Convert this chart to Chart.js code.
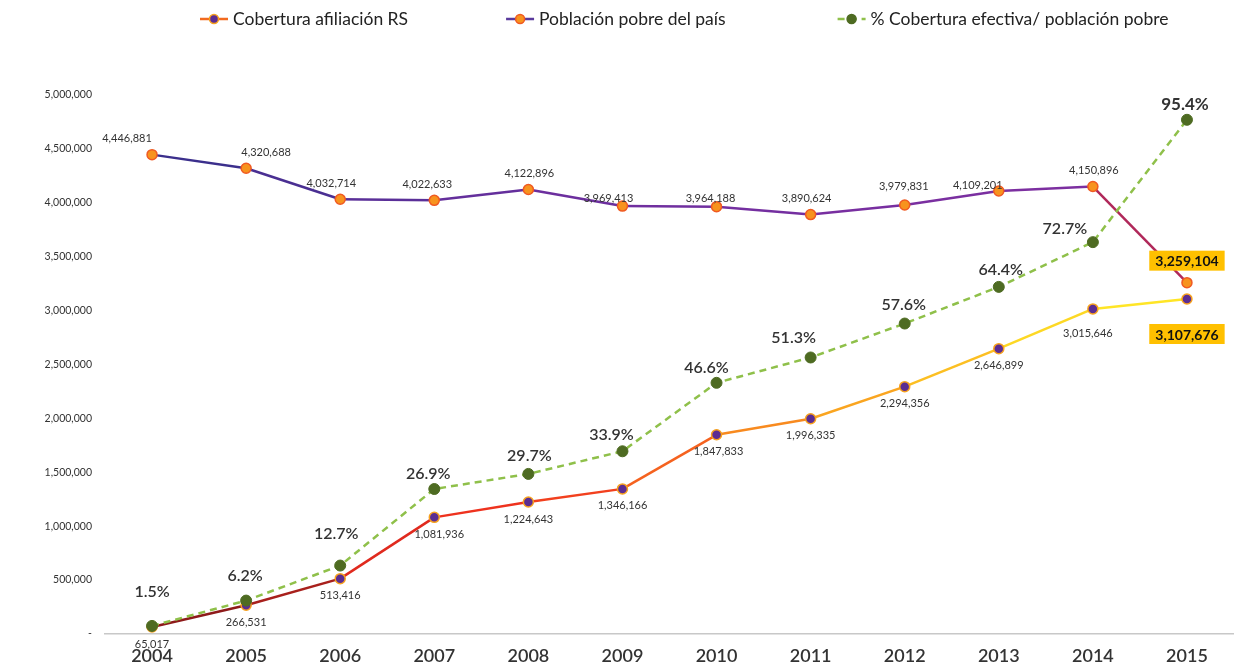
<!DOCTYPE html>
<html>
<head>
<meta charset="utf-8">
<script src="https://cdn.jsdelivr.net/npm/chart.js@4.4.1/dist/chart.umd.min.js"></script>
<style>
  html, body { margin: 0; padding: 0; background: #fff; overflow: hidden; }
  #wrap { position: relative; width: 1234px; height: 667px; }
</style>
</head>
<body>
<div id="wrap"><canvas id="chart"></canvas></div>
<script>
const years = ["2004", "2005", "2006", "2007", "2008", "2009", "2010", "2011", "2012", "2013", "2014", "2015"];
const cobertura = [65017, 266531, 513416, 1081936, 1224643, 1346166, 1847833, 1996335, 2294356, 2646899, 3015646, 3107676];
const poblacion = [4446881, 4320688, 4032714, 4022633, 4122896, 3969413, 3964188, 3890624, 3979831, 4109201, 4150896, 3259104];
const porcentaje = [1.5, 6.2, 12.7, 26.9, 29.7, 33.9, 46.6, 51.3, 57.6, 64.4, 72.7, 95.4];

// segment colours (style only)
const cobColors = ["#8e1a1a", "#a8201c", "#e02a1e", "#ee321e", "#f2401e", "#f5621f", "#f88a1f", "#faa520", "#fcbf22", "#fdd824", "#ffe526"];
const pobColors = ["#3b2f8c", "#4a2f92", "#5a2f98", "#642f9c", "#6c2f9e", "#702f9f", "#742fa0", "#782fa0", "#7a2fa0", "#7c2fa0", "#b0285a"];

const fmt = v => v.toLocaleString("en-US");
const FONT = "Lato, 'Open Sans', sans-serif";

// custom labels and legend
const labelsPlugin = {
  id: "pointLabels",
  afterDatasetsDraw(chart) {
    const ctx = chart.ctx;
    chart.data.datasets.forEach((ds, di) => {
      const meta = chart.getDatasetMeta(di);
      meta.data.forEach((pt, i) => {
        const last = i === ds.data.length - 1;
        let text = ds.isPct ? ds.data[i].toFixed(1) + "%" : fmt(ds.data[i]);
        let dx = (ds.labelDx && ds.labelDx[i]) || 0;
        let dy = ds.labelDy + ((ds.labelDyExtra && ds.labelDyExtra[i]) || 0);
        const x = pt.x + dx, y = pt.y + dy;
        ctx.save();
        ctx.textAlign = "center";
        ctx.textBaseline = "middle";
        if (ds.boxLast && last) {
          ctx.font = "bold 14px " + FONT;
          const w = ctx.measureText(text).width + 12;
          ctx.fillStyle = "#ffc000";
          ctx.fillRect(x - w / 2, y - 10, w, 20);
          ctx.fillStyle = "#111";
          ctx.fillText(text, x, y + 1);
        } else if (ds.isPct) {
          ctx.font = (last ? "bold 17px " : "600 16px ") + FONT;
          ctx.fillStyle = "#333";
          ctx.fillText(text, x, y);
        } else {
          ctx.font = "11px " + FONT;
          ctx.fillStyle = "#333";
          ctx.fillText(text, x, y);
        }
        ctx.restore();
      });
    });
  },
  afterDraw(chart) {
    const ctx = chart.ctx;
    let x = 200;
    const y = 19;
    const gaps = [98, 112];
    ctx.save();
    ctx.font = "17.5px " + FONT;
    ctx.textBaseline = "middle";
    chart.data.datasets.forEach((ds, k) => {
      ctx.lineWidth = 2.5;
      ctx.strokeStyle = ds.legendLine;
      ctx.setLineDash(ds.borderDash || []);
      ctx.beginPath();
      ctx.moveTo(x, y);
      ctx.lineTo(x + 28, y);
      ctx.stroke();
      ctx.setLineDash([]);
      ctx.beginPath();
      ctx.arc(x + 14, y, 4.5, 0, Math.PI * 2);
      ctx.fillStyle = ds.pointBackgroundColor;
      ctx.fill();
      ctx.lineWidth = 1.5;
      ctx.strokeStyle = ds.pointBorderColor;
      ctx.stroke();
      ctx.fillStyle = "#222";
      ctx.fillText(ds.label, x + 33, y);
      x += 33 + ctx.measureText(ds.label).width + (gaps[k] || 0);
    });
    ctx.restore();
  }
};

new Chart(document.getElementById("chart"), {
  type: "line",
  data: {
    labels: years,
    datasets: [
      {
        label: "Cobertura afiliación RS",
        data: cobertura,
        yAxisID: "y",
        borderWidth: 2.5,
        borderColor: "#f0321e",
        legendLine: "#f26a1f",
        segment: { borderColor: c => cobColors[c.p0DataIndex] },
        pointRadius: 5,
        pointBackgroundColor: "#5b2d92",
        pointBorderColor: "#f7a21f",
        pointBorderWidth: 1.5,
        labelDy: 17,
        labelDyExtra: [0, 0, 0, 0, 0, 0, 0, 0, 0, 0, 8, 18],
        labelDx: [0, 0, 0, 5, 0, 0, 2, 0, 0, 0, -5, 0],
        boxLast: true,
        order: 2
      },
      {
        label: "Población pobre del país",
        data: poblacion,
        yAxisID: "y",
        borderWidth: 2.5,
        borderColor: "#6a2f9c",
        legendLine: "#5a3a9c",
        segment: { borderColor: c => pobColors[c.p0DataIndex] },
        pointRadius: 5,
        pointBackgroundColor: "#f7931e",
        pointBorderColor: "#f05a22",
        pointBorderWidth: 1.5,
        labelDy: -16,
        labelDyExtra: [0, 0, 0, 0, 0, 8, 8, 0, -3, 10, 0, -6],
        labelDx: [-25, 20, -9, -7, 1, -14, -6, -4, -1, -21, 1, 0],
        boxLast: true,
        order: 1
      },
      {
        label: "% Cobertura efectiva/ población pobre",
        data: porcentaje,
        yAxisID: "y1",
        isPct: true,
        borderWidth: 2.5,
        borderColor: "#8fc04a",
        legendLine: "#8fc04a",
        borderDash: [7, 5],
        pointRadius: 5.5,
        pointBackgroundColor: "#4e6b22",
        pointBorderColor: "#4e6b22",
        pointBorderWidth: 1,
        labelDy: -20,
        labelDyExtra: [-14, -5, -12, 5, 2, 4, 5, 0, 1, 3, 7, 5],
        labelDx: [0, -1, -4, -6, 1, -11, -10, -17, -1, 2, -28, -2],
        order: 0
      }
    ]
  },
  options: {
    responsive: true,
    maintainAspectRatio: false,
    animation: false,
    layout: { autoPadding: false, padding: { top: 95, right: 0, left: 0, bottom: 0 } },
    plugins: { legend: { display: false }, tooltip: { enabled: false } },
    elements: { line: { tension: 0 } },
    scales: {
      x: {
        offset: true,
        grid: { display: false, drawTicks: false },
        border: { display: true, color: "#c8c8c8", width: 1.5 },
        afterFit: s => { s.height = 33; s.paddingRight = 0; s.paddingLeft = 0; },
        ticks: { color: "#333", padding: 11, font: { family: FONT, size: 18, weight: "600" } }
      },
      y: {
        min: 0,
        max: 5000000,
        grid: { display: false, drawTicks: false },
        border: { display: false },
        afterFit: s => { s.width = 105; },
        ticks: {
          stepSize: 500000,
          padding: 13,
          color: "#333",
          font: { family: FONT, size: 10.5 },
          callback: v => v === 0 ? "-" : fmt(v)
        }
      },
      y1: {
        display: false,
        min: 0,
        max: 100
      }
    }
  },
  plugins: [labelsPlugin]
});
</script>
</body>
</html>
